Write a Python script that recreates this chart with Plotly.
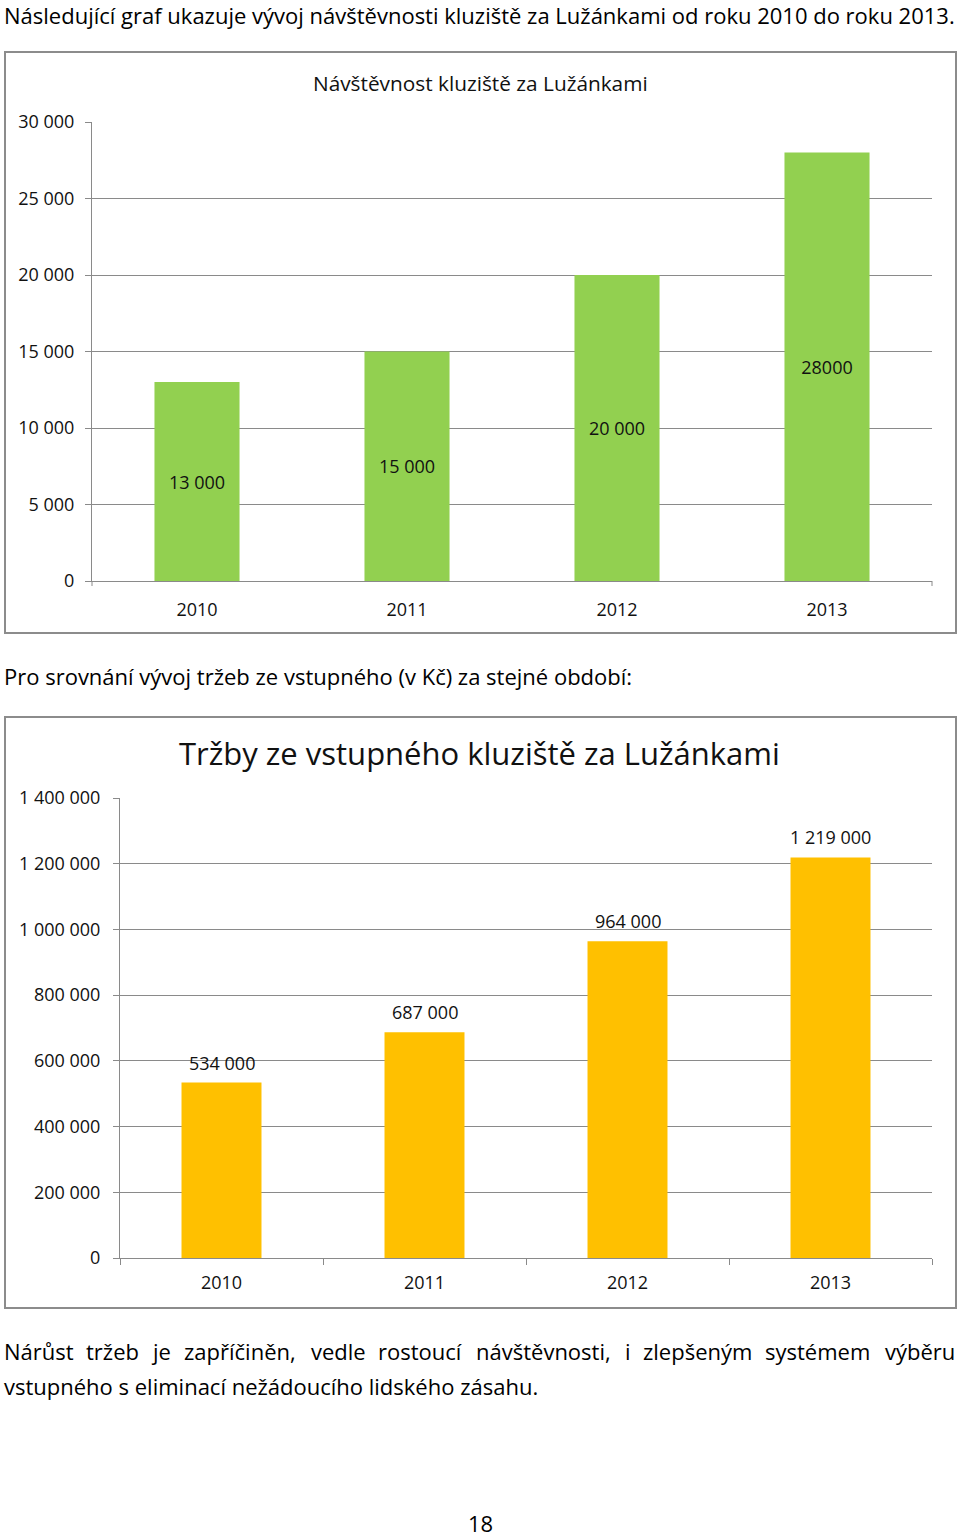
import plotly.graph_objects as go

W, H = 960, 1537

# ---- data ----
years = ["2010", "2011", "2012", "2013"]
visitors = [13000, 15000, 20000, 28000]
visitor_labels = ["13 000", "15 000", "20 000", "28000"]
visitor_ticks = [0, 5000, 10000, 15000, 20000, 25000, 30000]
visitor_ticktext = ["0", "5 000", "10 000", "15 000", "20 000", "25 000", "30 000"]

revenue = [534000, 687000, 964000, 1219000]
revenue_labels = ["534 000", "687 000", "964 000", "1 219 000"]
revenue_ticks = [0, 200000, 400000, 600000, 800000, 1000000, 1200000, 1400000]
revenue_ticktext = ["0", "200 000", "400 000", "600 000", "800 000", "1 000 000", "1 200 000", "1 400 000"]

title1 = "Návštěvnost kluziště za Lužánkami"
title2 = "Tržby ze vstupného kluziště za Lužánkami"
para1 = "Následující graf ukazuje vývoj návštěvnosti kluziště za Lužánkami od roku 2010 do roku 2013."
para2 = "Pro srovnání vývoj tržeb ze vstupného (v Kč) za stejné období:"
para3_words = ["Nárůst", "tržeb", "je", "zapříčiněn,", "vedle", "rostoucí", "návštěvnosti,", "i",
               "zlepšeným", "systémem", "výběru"]
para3b = "vstupného s eliminací nežádoucího lidského zásahu."
page_no = "18"

FONT = "Open Sans"
GRID = "#8a8a8a"
TXT = "#111111"
TS = 18    # tick / label font size
PS = 22    # paragraph font size


def px(x):
    return x / W


def py(y):
    return 1 - y / H


fig = go.Figure()

fig.add_trace(go.Bar(
    x=years, y=visitors, text=visitor_labels, textposition="inside",
    insidetextanchor="middle", marker=dict(color="#92D050", line=dict(width=0)),
    width=0.405, textfont=dict(family=FONT, size=TS, color=TXT),
    xaxis="x", yaxis="y", showlegend=False, hoverinfo="x+y",
))
fig.add_trace(go.Bar(
    x=years, y=revenue, textposition="none",
    marker=dict(color="#FFC000", line=dict(width=0)),
    width=0.394, xaxis="x2", yaxis="y2", showlegend=False, hoverinfo="x+y",
))

axis_common = dict(
    showline=True, linecolor=GRID, linewidth=1,
    tickcolor=GRID, tickfont=dict(family=FONT, size=TS, color=TXT),
    zeroline=False, fixedrange=True, automargin=False,
)

fig.update_layout(
    width=W, height=H,
    margin=dict(l=0, r=0, t=0, b=0, autoexpand=False),
    paper_bgcolor="white", plot_bgcolor="white",
    showlegend=False,
    xaxis=dict(type="category", categoryorder="array", categoryarray=years,
               range=[-0.5, len(years) - 0.5],
               domain=[px(92), px(932)], anchor="y", ticks="",
               showgrid=False, ticklabelstandoff=12, **axis_common),
    yaxis=dict(domain=[py(581), py(122)], anchor="x", range=[0, 30000],
               tickvals=visitor_ticks, ticktext=visitor_ticktext,
               ticks="outside", ticklen=6,
               showgrid=True, gridcolor=GRID, gridwidth=1,
               ticklabelstandoff=7, **axis_common),
    xaxis2=dict(type="category", categoryorder="array", categoryarray=years,
                range=[-0.5, len(years) - 0.5],
                domain=[px(120), px(932)], anchor="y2", tickson="boundaries",
                ticks="outside", ticklen=6,
                showgrid=False, ticklabelstandoff=8, **axis_common),
    yaxis2=dict(domain=[py(1258), py(798)], anchor="x2", range=[0, 1400000],
                tickvals=revenue_ticks, ticktext=revenue_ticktext,
                ticks="outside", ticklen=6,
                showgrid=True, gridcolor=GRID, gridwidth=1,
                ticklabelstandoff=9, **axis_common),
)

# end ticks of the top category axis
for xd in (0, 1):
    fig.add_shape(type="line", xref="x domain", yref="paper",
                  x0=xd, x1=xd, y0=py(586), y1=py(581),
                  line=dict(color=GRID, width=1))

# chart frames
for (x0, y0, x1, y1) in [(5, 52, 956, 633), (5, 717, 956, 1308)]:
    fig.add_shape(type="rect", xref="paper", yref="paper",
                  x0=px(x0), x1=px(x1), y0=py(y1), y1=py(y0),
                  line=dict(color="#8c8c8c", width=2), fillcolor="rgba(0,0,0,0)",
                  layer="above")

# value labels above the revenue bars (category index on x2)
for i, (v, lab) in enumerate(zip(revenue, revenue_labels)):
    fig.add_annotation(x=i, y=v, xref="x2", yref="y2", text=lab, showarrow=False,
                       yanchor="middle", yshift=20,
                       font=dict(family=FONT, size=TS, color=TXT))

ann = []
ann.append(dict(text=title1, x=px(480), y=py(83), font=dict(family=FONT, size=20.8, color=TXT)))
ann.append(dict(text=title2, x=px(479), y=py(753), font=dict(family=FONT, size=31, color=TXT)))
ann.append(dict(text=para1, x=px(2), y=py(15), xanchor="left", font=dict(family=FONT, size=PS, color="black")))
ann.append(dict(text=para2, x=px(2), y=py(676), xanchor="left", font=dict(family=FONT, size=PS, color="black")))
centers = [38, 112, 161, 240, 338, 420, 543, 628, 697, 817, 913]
for k, (w, c) in enumerate(zip(para3_words, centers)):
    if k == 0:
        ann.append(dict(text=w, x=px(2), y=py(1351), xanchor="left", font=dict(family=FONT, size=PS, color="black")))
    elif k == len(para3_words) - 1:
        ann.append(dict(text=w, x=px(957), y=py(1351), xanchor="right", font=dict(family=FONT, size=PS, color="black")))
    else:
        ann.append(dict(text=w, x=px(c), y=py(1351), xanchor="center", font=dict(family=FONT, size=PS, color="black")))
ann.append(dict(text=para3b, x=px(2), y=py(1386), xanchor="left", font=dict(family=FONT, size=PS, color="black")))
ann.append(dict(text=page_no, x=px(480), y=py(1523), font=dict(family=FONT, size=PS, color="black")))

for a in ann:
    a.setdefault("xanchor", "center")
    a.update(xref="paper", yref="paper", yanchor="middle", showarrow=False)
    fig.add_annotation(**a)

fig.write_html("out.html", config={"displayModeBar": False},
               post_script="document.body.style.margin='0';")
